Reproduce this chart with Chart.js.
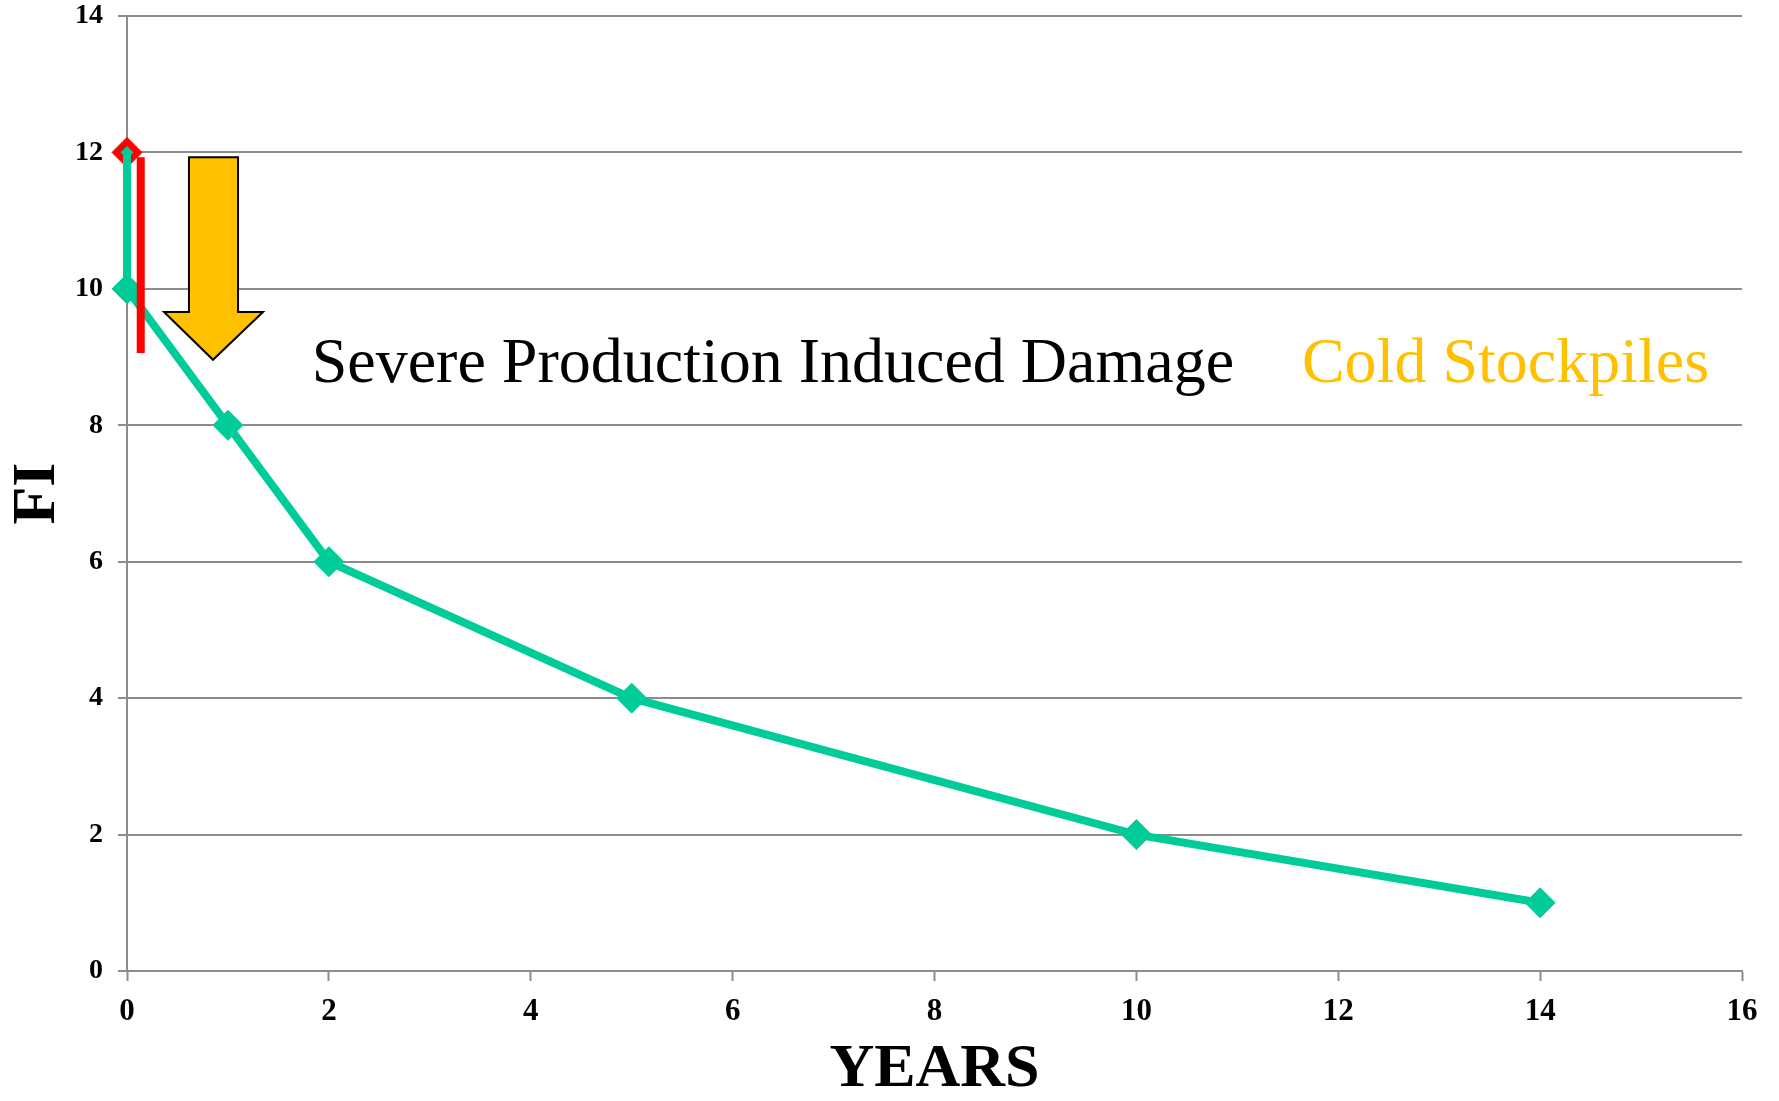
<!DOCTYPE html>
<html>
<head>
<meta charset="utf-8">
<title>FI vs Years</title>
<script src="https://cdn.jsdelivr.net/npm/chart.js@4/dist/chart.umd.min.js"></script>
<style>
    html, body { margin: 0; padding: 0; background: #fff; }
    #wrap { width: 1779px; height: 1101px; position: relative; }
</style>
</head>
<body>
<div id="wrap"><canvas id="fiChart"></canvas></div>
<script>
// --- DATA ---
const years = [0, 0, 1, 2, 5, 10, 14];
const fiValues = [12, 10, 8, 6, 4, 2, 1];
const startYear = [0];
const startFi = [12];
const xTicks = [0, 2, 4, 6, 8, 10, 12, 14, 16];
const yTicks = [0, 2, 4, 6, 8, 10, 12, 14];

// red vertical marker next to the axis
const redBarX = [0.136, 0.136];
const redBarY = [11.93, 9.06];

// orange down arrow (outline, in data units)
const arrowX = [0.614, 1.100, 1.100, 1.347, 0.852, 0.367, 0.614];
const arrowY = [11.93, 11.93, 9.66, 9.66, 8.96, 9.66, 9.66];

// text labels inside the plot
const noteText = ['Severe Production Induced Damage', 'Cold Stockpiles'];
const noteX = [1.83, 11.64];
const noteY = [8.635, 8.635];
const noteColor = ['#000000', '#FFC000'];

const GREEN = '#00CC99';
const GRID = '#8c8c8c';
const SERIF = "'Liberation Serif', 'Times New Roman', serif";

const toPoints = (xs, ys) => xs.map((x, i) => ({ x: x, y: ys[i] }));

// arrow + text drawn through the chart scales
const notesPlugin = {
    id: 'notes',
    afterDatasetsDraw(chart) {
        const { ctx, scales } = chart;
        const px = v => scales.x.getPixelForValue(v);
        const py = v => scales.y.getPixelForValue(v);

        ctx.save();
        ctx.beginPath();
        arrowX.forEach((x, i) => {
            if (i === 0) ctx.moveTo(px(x), py(arrowY[i]));
            else ctx.lineTo(px(x), py(arrowY[i]));
        });
        ctx.closePath();
        ctx.fillStyle = '#FFC000';
        ctx.fill();
        ctx.lineWidth = 2;
        ctx.lineJoin = 'miter';
        ctx.strokeStyle = '#000';
        ctx.stroke();

        ctx.font = `64px ${SERIF}`;
        ctx.textBaseline = 'alphabetic';
        ctx.textAlign = 'left';
        noteText.forEach((t, i) => {
            ctx.fillStyle = noteColor[i];
            ctx.fillText(t, px(noteX[i]), py(noteY[i]));
        });
        ctx.restore();
    }
};

const ctx = document.getElementById('fiChart').getContext('2d');

new Chart(ctx, {
    type: 'line',
    data: {
        datasets: [
            {
                // drawn on top
                data: toPoints(redBarX, redBarY),
                borderColor: '#FF0000',
                borderWidth: 8,
                borderCapStyle: 'butt',
                pointRadius: 0,
                clip: false
            },
            {
                data: toPoints(years, fiValues),
                borderColor: GREEN,
                borderWidth: 8,
                backgroundColor: GREEN,
                pointStyle: 'rectRot',
                pointRadius: years.map((y, i) => (i === 0 ? 6 : 15)),
                pointBorderWidth: 1,
                pointBorderColor: GREEN,
                pointBackgroundColor: GREEN,
                tension: 0,
                clip: false
            },
            {
                // red start marker, sits below the green line
                data: toPoints(startYear, startFi),
                showLine: false,
                pointStyle: 'rectRot',
                pointRadius: 15,
                pointBorderWidth: 1,
                pointBorderColor: '#FF0000',
                pointBackgroundColor: '#FF0000',
                clip: false
            }
        ]
    },
    options: {
        responsive: true,
        maintainAspectRatio: false,
        animation: false,
        events: [],
        layout: {
            padding: { top: 16, right: 37, left: 0, bottom: 0 }
        },
        plugins: {
            legend: { display: false },
            tooltip: { enabled: false }
        },
        scales: {
            x: {
                type: 'linear',
                min: 0,
                max: 16,
                afterFit: scale => {
                    scale.height = 130;
                    scale.paddingLeft = 0;
                    scale.paddingRight = 0;
                },
                afterBuildTicks: scale => { scale.ticks = xTicks.map(v => ({ value: v })); },
                grid: {
                    drawOnChartArea: false,
                    drawTicks: true,
                    tickLength: 10,
                    tickWidth: 2,
                    tickColor: GRID
                },
                border: { display: true, color: GRID, width: 2 },
                ticks: {
                    color: '#000',
                    padding: 12,
                    maxRotation: 0,
                    font: { family: SERIF, size: 31, weight: 'bold' }
                },
                title: {
                    display: true,
                    text: 'YEARS',
                    color: '#000',
                    padding: { top: 0, bottom: 0 },
                    font: { family: SERIF, size: 62, weight: 'bold', lineHeight: 1.0 }
                }
            },
            y: {
                min: 0,
                max: 14,
                afterFit: scale => {
                    scale.width = 127;
                    scale.paddingTop = 0;
                    scale.paddingBottom = 0;
                },
                afterBuildTicks: scale => { scale.ticks = yTicks.map(v => ({ value: v })); },
                grid: {
                    color: GRID,
                    lineWidth: 2,
                    drawTicks: true,
                    tickLength: 9
                },
                border: { display: true, color: GRID, width: 2 },
                ticks: {
                    color: '#000',
                    padding: 15,
                    font: { family: SERIF, size: 28, weight: 'bold' }
                },
                title: {
                    display: true,
                    text: 'FI',
                    color: '#000',
                    padding: { top: 0, bottom: 0 },
                    font: { family: SERIF, size: 62, weight: 'bold', lineHeight: 1.22 }
                }
            }
        }
    },
    plugins: [notesPlugin]
});
</script>
</body>
</html>
